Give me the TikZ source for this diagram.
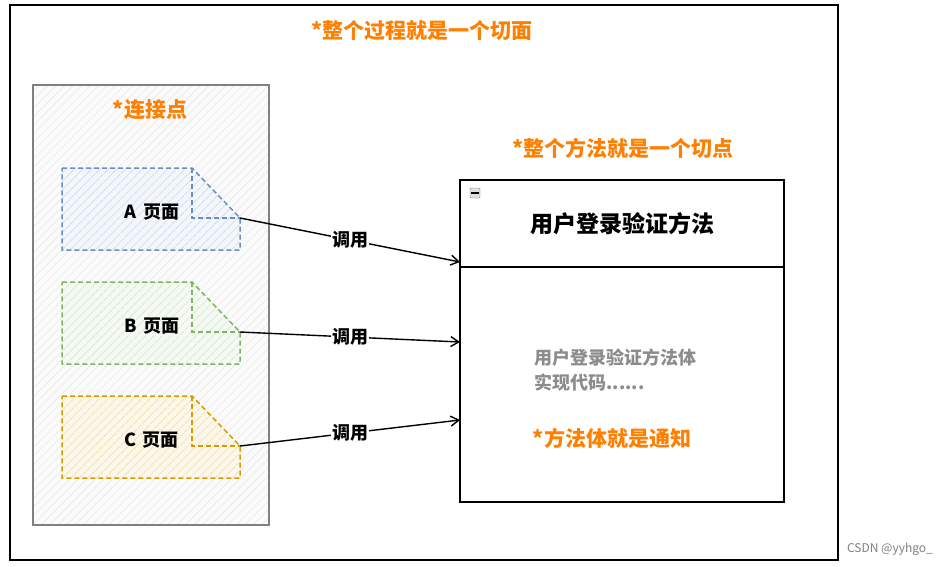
\documentclass[tikz,border=0pt]{standalone}
\usepackage{fontspec}
\newfontfamily\cjk{Noto Sans CJK SC}
\usetikzlibrary{patterns.meta,arrows.meta}
\definecolor{org}{HTML}{FF8000}
\definecolor{bl}{HTML}{6C8EBF}
\definecolor{gr}{HTML}{82B366}
\definecolor{yl}{HTML}{D79B00}
\tikzset{
 doc/.style={draw=#1,dash pattern=on 5pt off 3pt,line width=1.5pt},
 lbl/.style={font=\cjk\bfseries\fontsize{18}{22}\selectfont},
 olbl/.style={font=\cjk\bfseries\fontsize{21}{25}\selectfont,text=org},
 hatch/.style={pattern={Lines[angle=45,distance=6pt,line width=0.8pt]},pattern color=#1},
 arr/.style={-{Straight Barb[open,length=8pt,width=10pt]},line width=1.4pt},
}
\begin{document}
\begin{tikzpicture}[x=1pt,y=-1pt]
\useasboundingbox (0,0) rectangle (944,566);
\fill[white] (0,0) rectangle (944,566);
\draw[line width=1.5pt] (10,5) rectangle (838,560);
\node[olbl] (title) at (422,31) {*整个过程就是一个切面};
\fill[gray!3] (33,85) rectangle (269,525);
\draw[gray,line width=1.5pt,hatch=gray!15] (33,85) rectangle (269,525);
\node[olbl] (jp) at (150,110) {*连接点};
\foreach \n/\c/\y/\t in {a/bl/168/A,b/gr/282/B,c/yl/396/C}{
  \fill[\c!8] (62,\y) -- (192,\y) -- (240,\y+50) -- (240,\y+82) -- (62,\y+82) -- cycle;
  \draw[doc=\c,hatch=\c!30] (62,\y) -- (192,\y) -- (240,\y+50) -- (240,\y+82) -- (62,\y+82) -- cycle;
  \draw[doc=\c] (192,\y) -- (192,\y+50) -- (240,\y+50);
  \coordinate (\n) at (240,\y+50);
  \node[lbl] (\n t) at (152,\y+44) {\textit{\t}\,\,页面};
}
\node[olbl] (pc) at (623,148) {*整个方法就是一个切点};
\draw[line width=1.5pt] (460,180) rectangle (784,502);
\draw[line width=1.5pt] (460,267) -- (784,267);
\node[draw=gray,fill=gray!25,minimum size=10pt,inner sep=0pt,rounded corners=1pt] (mn) at (475,193) {};
\draw[line width=1.2pt] (471,193) -- (479,193);
\node[font=\cjk\bfseries\fontsize{23}{27}\selectfont] (mt) at (622,224) {用户登录验证方法};
\node[font=\cjk\bfseries\fontsize{18}{25}\selectfont,text=gray!90,align=left,anchor=west] (body) at (531,370) {用户登录验证方法体\\实现代码......};
\node[olbl] (tz) at (612,438) {*方法体就是通知};
\coordinate (ea) at (460,262);
\coordinate (eb) at (460,342);
\coordinate (ec) at (460,420);
\draw[arr] (a) -- node[lbl,fill=white,inner sep=1pt]{调用} (ea);
\draw[arr] (b) -- node[lbl,fill=white,inner sep=1pt]{调用} (eb);
\draw[arr] (c) -- node[lbl,fill=white,inner sep=1pt]{调用} (ec);
\node[font=\cjk\fontsize{12}{14}\selectfont,text=gray] (csdn) at (890,549) {CSDN @yyhgo\_};
\end{tikzpicture}
\end{document}
